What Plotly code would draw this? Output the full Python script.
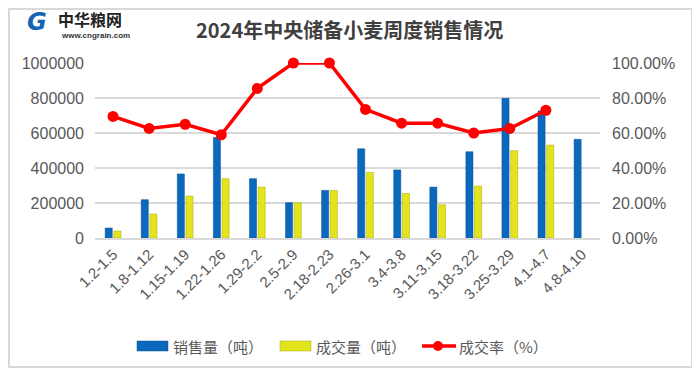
import plotly.graph_objects as go

categories = ["1.2-1.5", "1.8-1.12", "1.15-1.19", "1.22-1.26", "1.29-2.2", "2.5-2.9",
              "2.18-2.23", "2.26-3.1", "3.4-3.8", "3.11-3.15", "3.18-3.22", "3.25-3.29",
              "4.1-4.7", "4.8-4.10"]
sales = [57000, 219000, 366000, 575000, 339000, 202000, 272000, 510000, 389000,
         291000, 493000, 798000, 726000, 564000]
deals = [40000, 137000, 240000, 339000, 291000, 202000, 272000, 375000, 255000,
         190000, 297000, 499000, 531000, None]
rate = [0.695, 0.626, 0.650, 0.590, 0.855, 1.0, 1.0, 0.735, 0.656, 0.656, 0.600,
        0.626, 0.730, None]
names = ["销售量（吨）", "成交量（吨）", "成交率（%）"]

FONT = "Liberation Sans, Noto Sans CJK SC, sans-serif"
CJK = "Noto Sans CJK SC, sans-serif"
BLUE, BLUE_D = "#0b69bd", "#084f8f"
YEL, YEL_D = "#e4e41c", "#a8a810"
RED = "#ff0000"

# the page body has an 8px margin, so the figure is drawn 8px smaller and
# reference-window coordinates are shifted by OFF
OFF = 8
W, H = 700 - OFF, 376 - OFF
L, R, T, B = 95 - OFF, 700 - 600, 63 - OFF, 376 - 238
pw, ph = W - L - R, H - T - B


def px(x):
    return (x - OFF - L) / pw


def py(y):
    return (H - B - (y - OFF)) / ph


fig = go.Figure()
fig.add_trace(go.Bar(x=categories, y=sales, name=names[0],
                     marker=dict(color=BLUE, line=dict(color=BLUE_D, width=0.5))))
fig.add_trace(go.Bar(x=categories, y=deals, name=names[1],
                     marker=dict(color=YEL, line=dict(color=YEL_D, width=0.5))))
fig.add_trace(go.Scatter(x=categories, y=rate, name=names[2], yaxis="y2",
                         mode="lines+markers", cliponaxis=False,
                         line=dict(color=RED, width=3.5),
                         marker=dict(color=RED, size=11)))

shapes = [
    dict(type="rect", xref="paper", yref="paper",
         x0=px(OFF + 1), x1=px(692), y0=py(367), y1=py(OFF + 1),
         line=dict(color="#d9d9d9", width=2), fillcolor="rgba(0,0,0,0)", layer="below"),
    # custom legend keys
    dict(type="rect", xref="paper", yref="paper", x0=px(137), x1=px(168),
         y0=py(351), y1=py(341), fillcolor=BLUE, line=dict(color=BLUE_D, width=0.5)),
    dict(type="rect", xref="paper", yref="paper", x0=px(280), x1=px(311),
         y0=py(351), y1=py(341), fillcolor=YEL, line=dict(color=YEL_D, width=0.5)),
    dict(type="line", xref="paper", yref="paper", x0=px(422), x1=px(456),
         y0=py(346), y1=py(346), line=dict(color=RED, width=3.5)),
    dict(type="circle", xref="paper", yref="paper", x0=px(433), x1=px(443),
         y0=py(351), y1=py(341), fillcolor=RED, line=dict(color=RED, width=0)),
]

ann = [
    dict(text="<b>2024年中央储备小麦周度销售情况</b>", x=px(349), y=py(30),
         xanchor="center", yanchor="middle",
         font=dict(family=CJK, size=20, color="#404040")),
    dict(text="<b><i>G</i></b>", x=px(37), y=py(22), xanchor="center", yanchor="middle",
         font=dict(family="DejaVu Sans", size=24, color="#1565b5")),
    dict(text="<b>中华粮网</b>", x=px(57), y=py(19.5), xanchor="left", yanchor="middle",
         font=dict(family=CJK, size=16, color="#222222")),
    dict(text="<b>www.cngrain.com</b>", x=px(60), y=py(30), xanchor="left", yanchor="top",
         font=dict(family=FONT, size=8, color="#333333")),
    dict(text=names[0], x=px(172), y=py(346), xanchor="left", yanchor="middle",
         font=dict(family=CJK, size=15, color="#595959")),
    dict(text=names[1], x=px(315), y=py(346), xanchor="left", yanchor="middle",
         font=dict(family=CJK, size=15, color="#595959")),
    dict(text=names[2], x=px(458), y=py(346), xanchor="left", yanchor="middle",
         font=dict(family=CJK, size=15, color="#595959")),
]
for a in ann:
    a.update(xref="paper", yref="paper", showarrow=False, borderpad=0)

fig.update_layout(
    width=W, height=H,
    margin=dict(l=L, r=R, t=T, b=B, pad=0),
    paper_bgcolor="white", plot_bgcolor="white",
    barmode="group", bargap=0.52, bargroupgap=0.18,
    showlegend=False,
    xaxis=dict(range=[-0.5, len(categories) - 0.5],
               tickangle=-45, tickfont=dict(family=FONT, size=15, color="#595959"),
               showgrid=False, showline=True, linecolor="#d9d9d9", linewidth=1.5,
               ticks="", fixedrange=True),
    yaxis=dict(range=[0, 1000000], dtick=200000, tickformat="d",
               tickfont=dict(family=FONT, size=16, color="#595959"),
               gridcolor="#d9d9d9", gridwidth=1.5, zeroline=False, showline=False,
               ticks="", ticklabelstandoff=10),
    yaxis2=dict(range=[0, 1], dtick=0.2, tickformat=".2%", overlaying="y", side="right",
                tickfont=dict(family=FONT, size=16, color="#595959"),
                showgrid=False, zeroline=False, showline=False,
                ticks="", ticklabelstandoff=11),
    shapes=shapes,
    annotations=ann,
)

fig.write_html("out.html")
